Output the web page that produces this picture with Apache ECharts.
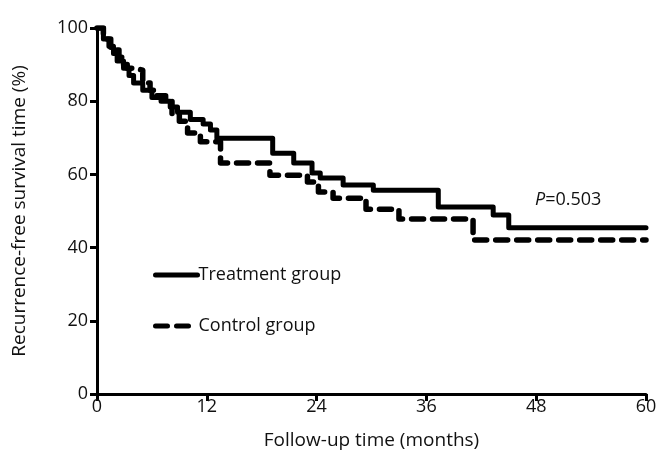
<!DOCTYPE html>
<html>
<head>
<meta charset="utf-8">
<script src="https://cdn.jsdelivr.net/npm/echarts@6/dist/echarts.min.js"></script>
<style>html,body{margin:0;padding:0;background:#fff}#c{width:672px;height:470px}</style>
</head>
<body>
<div id="c"></div>
<script>
var xTicks = [0, 12, 24, 36, 48, 60];
var yTicks = [0, 20, 40, 60, 80, 100];
var treatmentTime = [0, 0.7, 1.3, 1.8, 2.2, 2.9, 3.5, 4, 5, 6, 7, 8, 8.8, 10.2, 11.6, 12.4, 13.1, 19.2, 21.5, 23.5, 24.4, 26.9, 30.2, 37.3, 43.3, 45, 60];
var treatmentSurv = [100, 97, 95, 93, 91, 89, 87, 85, 83, 81, 80, 78.4, 77, 75, 73.8, 72.1, 69.9, 65.8, 63.1, 60.4, 59, 57.1, 55.7, 51.1, 48.9, 45.4, 45.4];
var controlTime = [0, 0.7, 1.5, 2.4, 2.9, 3.3, 4.2, 5, 5.8, 6.5, 7.5, 8.2, 9, 9.9, 11.3, 13.5, 18.9, 23, 24.2, 25.8, 29.4, 33, 41.1, 60];
var controlSurv = [100, 97, 94, 92, 90, 89, 88.5, 85, 83, 81.5, 80, 76.5, 74.5, 71.3, 68.9, 63.1, 59.8, 57.9, 55.2, 53.5, 50.5, 47.8, 42.1, 42.1];
var seriesNames = ['Treatment group', 'Control group'];
var pText = '0.503';

function pairs(t, s) { return t.map(function (v, i) { return [v, s[i]]; }); }

var chart = echarts.init(document.getElementById('c'), null, {renderer: 'canvas'});
var font = 'Open Sans';
var txt = '#111';
chart.setOption({
  animation: false,
  grid: {left: 97, right: 26, top: 28, bottom: 76, containLabel: false},
  xAxis: {
    type: 'value', min: 0, max: 60, interval: 12,
    name: 'Follow-up time (months)', nameLocation: 'middle', nameGap: 37,
    nameTextStyle: {fontFamily: font, fontSize: 19, color: txt},
    axisLine: {show: true, lineStyle: {color: '#000', width: 3}},
    axisTick: {show: true, length: 7, lineStyle: {color: '#000', width: 3}},
    axisLabel: {fontFamily: font, fontSize: 18, color: txt, margin: 4,
      formatter: function (v) { return xTicks.indexOf(v) >= 0 ? String(v) : ''; }},
    splitLine: {show: false}
  },
  yAxis: {
    type: 'value', min: 0, max: 100, interval: 20,
    name: 'Recurrence-free survival time (%)', nameLocation: 'middle', nameGap: 68,
    nameTextStyle: {fontFamily: font, fontSize: 19, color: txt},
    axisLine: {show: true, lineStyle: {color: '#000', width: 3}},
    axisTick: {show: true, length: 7, lineStyle: {color: '#000', width: 3}},
    axisLabel: {fontFamily: font, fontSize: 18, color: txt, margin: 9,
      formatter: function (v) { return yTicks.indexOf(v) >= 0 ? String(v) : ''; }},
    splitLine: {show: false}
  },
  legend: {
    orient: 'vertical', left: 148, top: 261, itemWidth: 42, itemHeight: 14, itemGap: 33,
    itemStyle: {opacity: 0},
    lineStyle: {width: 5},
    textStyle: {fontFamily: font, fontSize: 18, color: txt, padding: [0, 0, 0, -4]},
    data: seriesNames
  },
  graphic: [{
    type: 'text', left: 535, top: 191,
    style: {
      text: '{i|P}{n|=' + pText + '}',
      rich: {
        i: {fontFamily: font, fontSize: 18, fontStyle: 'italic', fill: txt},
        n: {fontFamily: font, fontSize: 18, fill: txt}
      }
    }
  }],
  series: [
    {
      name: seriesNames[0], type: 'line', step: 'end', symbol: 'none',
      data: pairs(treatmentTime, treatmentSurv),
      lineStyle: {color: '#000', width: 5, cap: 'round', join: 'round'},
      itemStyle: {color: '#000'}
    },
    {
      name: seriesNames[1], type: 'line', step: 'end', symbol: 'none',
      data: pairs(controlTime, controlSurv),
      lineStyle: {color: '#000', width: 5.5, type: [12, 9], cap: 'round', join: 'round'},
      itemStyle: {color: '#000'}
    }
  ]
});
</script>
</body>
</html>
